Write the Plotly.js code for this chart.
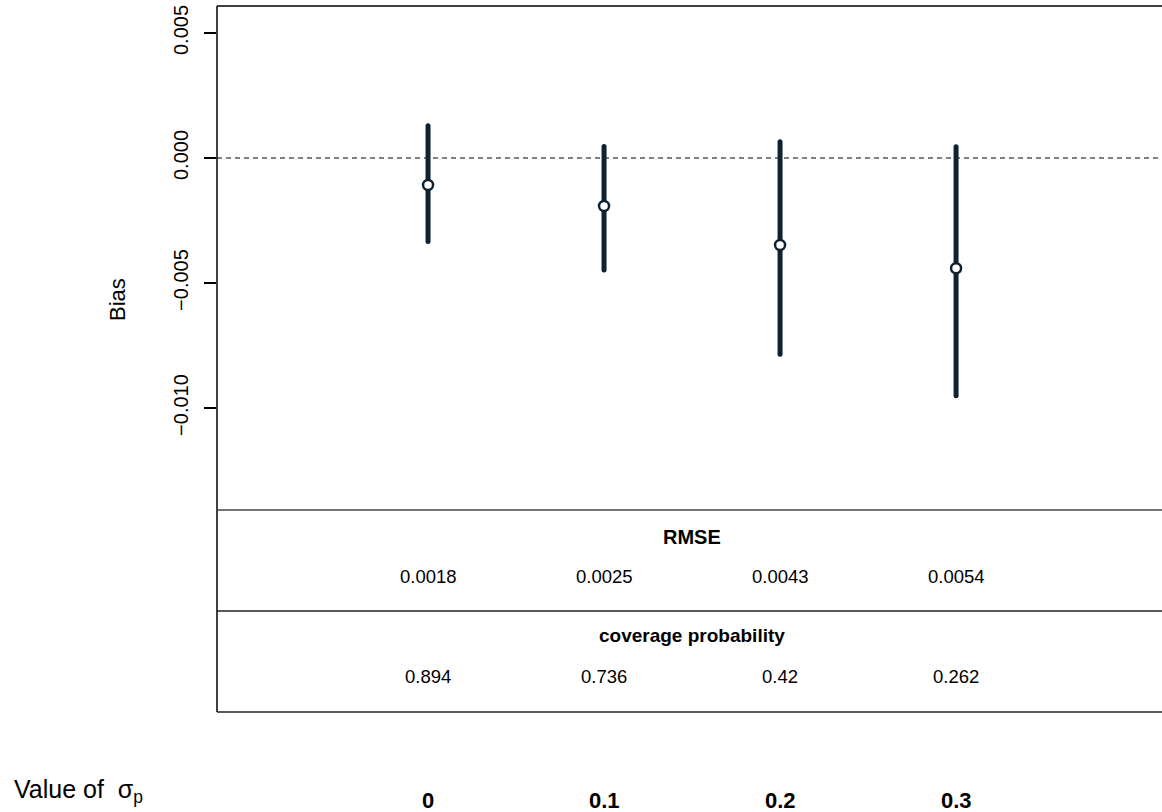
<!DOCTYPE html>
<html>
<head>
<meta charset="utf-8">
<script src="https://cdn.plot.ly/plotly-3.0.1.min.js"></script>
<style>html,body{margin:0;padding:0;background:#fff;}#chart{width:1162px;height:812px;}
#chart .js-line{stroke-linecap:round;}</style>
</head>
<body>
<div id="chart"></div>
<script>
const sigmaP = [0, 0.1, 0.2, 0.3];
const sigmaLabels = ["0", "0.1", "0.2", "0.3"];
const bias = [-0.00108, -0.00192, -0.00348, -0.00441];
const lower = [-0.00334, -0.00448, -0.00785, -0.00951];
const upper = [0.00129, 0.00046, 0.00065, 0.00045];
const rmse = ["0.0018", "0.0025", "0.0043", "0.0054"];
const coverage = ["0.894", "0.736", "0.42", "0.262"];
const yTicks = [-0.010, -0.005, 0.000, 0.005];
const yTickText = ["\u22120.010", "\u22120.005", "0.000", "0.005"];

const W = 1162, H = 812, L = 217, T = 6, B = 510;
const plotH = B - T, plotW = W - L;
const py = p => (B - p) / plotH;      // pixel y -> paper y
const px = p => (p - L) / plotW;      // pixel x -> paper x

const navy = "#0f2232";
const FONT = "Liberation Sans, Arial, sans-serif";

// vertical interval segments
const segX = [], segY = [];
sigmaP.forEach((s, i) => { segX.push(s, s, null); segY.push(lower[i], upper[i], null); });

const traces = [
  {x: segX, y: segY, mode: "lines", line: {color: navy, width: 5}, hoverinfo: "skip", showlegend: false},
  {x: sigmaP, y: bias, mode: "markers", showlegend: false,
   marker: {symbol: "circle", size: 10, color: "#ffffff", line: {color: navy, width: 2.5}}}
];

const shapes = [
  {type: "line", xref: "paper", yref: "paper", x0: 0, x1: 1.02, y0: 1, y1: 1, line: {color: "#000", width: 1.5}},
  {type: "line", xref: "paper", yref: "paper", x0: 0, x1: 0, y0: 1, y1: py(712), line: {color: "#000", width: 1.5}},
  {type: "line", xref: "paper", yref: "paper", x0: 0, x1: 1.02, y0: 0, y1: 0, line: {color: "#444", width: 1.5}},
  {type: "line", xref: "paper", yref: "paper", x0: 0, x1: 1.02, y0: py(611), y1: py(611), line: {color: "#222", width: 1.5}},
  {type: "line", xref: "paper", yref: "paper", x0: 0, x1: 1.02, y0: py(712), y1: py(712), line: {color: "#222", width: 1.5}},
  {type: "line", xref: "paper", yref: "y", x0: 0, x1: 1.02, y0: 0, y1: 0, line: {color: "#000", width: 1.2, dash: "5px,4px"}, layer: "below"}
];

const annotations = [];
const txt = (x, xref, y, text, size, bold, extra) => Object.assign({
  x: x, xref: xref, y: y, yref: "paper", text: bold ? "<b>" + text + "</b>" : text,
  showarrow: false, xanchor: "center", yanchor: "middle",
  font: {family: FONT, size: size, color: "#000"}
}, extra || {});

annotations.push(txt(0.15, "x", py(537), "RMSE", 20, true));
annotations.push(txt(0.15, "x", py(635), "coverage probability", 19, true));
sigmaP.forEach((s, i) => {
  annotations.push(txt(s, "x", py(576), rmse[i], 18.5, false));
  annotations.push(txt(s, "x", py(676), coverage[i], 18.5, false));
  annotations.push(txt(s, "x", py(800), sigmaLabels[i], 22, true));
});
annotations.push(txt(px(12), "paper", py(791), "Value of  \u03c3<sub>p</sub>", 25, false, {xanchor: "left"}));
annotations.push(txt(px(118), "paper", py(300), "Bias", 22, false, {textangle: -90}));

const layout = {
  width: W, height: H,
  margin: {l: L, r: 0, t: T, b: H - B, pad: 0},
  paper_bgcolor: "#fff", plot_bgcolor: "#fff",
  showlegend: false,
  xaxis: {range: [-0.1199, 0.417], showgrid: false, zeroline: false, showline: false,
          showticklabels: false, ticks: "", fixedrange: true},
  yaxis: {range: [-0.01408, 0.00608], showgrid: false, zeroline: false, showline: false,
          tickmode: "array", tickvals: yTicks, ticktext: yTickText, ticks: "outside",
          ticklen: 12, tickwidth: 1.2, tickcolor: "#000", tickangle: -90,
          ticklabelstandoff: 8,
          tickfont: {family: FONT, size: 20, color: "#000"}},
  shapes: shapes,
  annotations: annotations
};

Plotly.newPlot("chart", traces, layout, {displayModeBar: false, staticPlot: true});
</script>
</body>
</html>
